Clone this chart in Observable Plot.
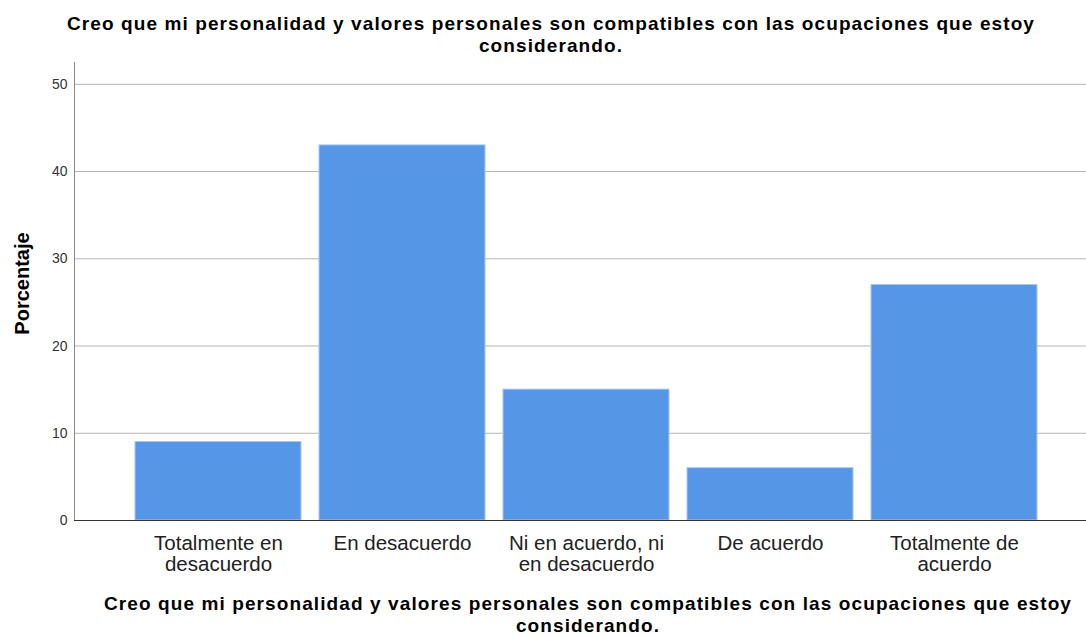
<!DOCTYPE html>
<html><head><meta charset="utf-8">
<script src="https://cdn.jsdelivr.net/npm/d3@7"></script>
<script src="https://cdn.jsdelivr.net/npm/@observablehq/plot@0.6"></script>
<style>
body{margin:0;background:#fff;}
#wrap{position:relative;width:1086px;height:637px;font-family:"Liberation Sans",Arial,sans-serif;}
.ttl{position:absolute;text-align:center;font-weight:bold;font-size:19px;letter-spacing:1.1px;line-height:21.5px;height:21.5px;color:#000;white-space:nowrap;}
</style></head><body>
<div id="wrap">
<div id="chart"></div>
</div>
<script>
const titleLines = ["Creo que mi personalidad y valores personales son compatibles con las ocupaciones que estoy", "considerando."];
const categories = ["Totalmente en desacuerdo","En desacuerdo","Ni en acuerdo, ni en desacuerdo","De acuerdo","Totalmente de acuerdo"];
const tickLabels = ["Totalmente en\ndesacuerdo","En desacuerdo","Ni en acuerdo, ni\nen desacuerdo","De acuerdo","Totalmente de\nacuerdo"];
const percentages = [9, 43, 15, 6, 27];
const yTicks = [0, 10, 20, 30, 40, 50];
const yLabel = "Porcentaje";

const data = categories.map((c, i) => ({cat: c, label: tickLabels[i], pct: percentages[i]}));

const wrap = document.getElementById("wrap");
function addTitle(left, width, top) {
  titleLines.forEach((t, i) => {
    const d = document.createElement("div");
    d.className = "ttl";
    d.style.left = left + "px";
    d.style.width = width + "px";
    d.style.top = (top + i * 21.5) + "px";
    d.textContent = t;
    wrap.appendChild(d);
  });
}
addTitle(0, 1102, 13);
addTitle(74, 1028, 593);

const chart = Plot.plot({
  width: 1086, height: 637,
  marginLeft: 74, marginRight: 0, marginTop: 62, marginBottom: 117,
  style: {fontFamily: '"Liberation Sans", Arial, sans-serif', background: "#fff"},
  x: {domain: categories, paddingInner: 0.1, paddingOuter: 0.05, insetLeft: 49.5, insetRight: 38.5, axis: null},
  y: {domain: [0, 52.5], axis: null},
  marks: [
    Plot.ruleY(yTicks.filter(d => d > 0), {stroke: "#b4b4b4", strokeWidth: 1}),
    Plot.barY(data, {x: "cat", y: "pct", fill: "#5596e6", stroke: "#a8c8f2", strokeWidth: 1}),
    Plot.frame({anchor: "left", stroke: "#8a8a8a"}),
    Plot.ruleY([0], {stroke: "#333", strokeWidth: 1}),
    Plot.axisY({ticks: yTicks, tickSize: 0, tickPadding: 7, fontSize: 14, fill: "#333", label: null}),
    Plot.text(data, {x: "cat", text: "label", frameAnchor: "bottom", lineAnchor: "top", dy: 14, fontSize: 20.5, fill: "#222", lineHeight: 1.03}),
    Plot.text([yLabel], {text: d => d, frameAnchor: "left", textAnchor: "middle", dx: -52, dy: -8, rotate: -90, fontSize: 20, fontWeight: "bold", fill: "#000"})
  ]
});
document.getElementById("chart").appendChild(chart);
</script>
</body></html>
